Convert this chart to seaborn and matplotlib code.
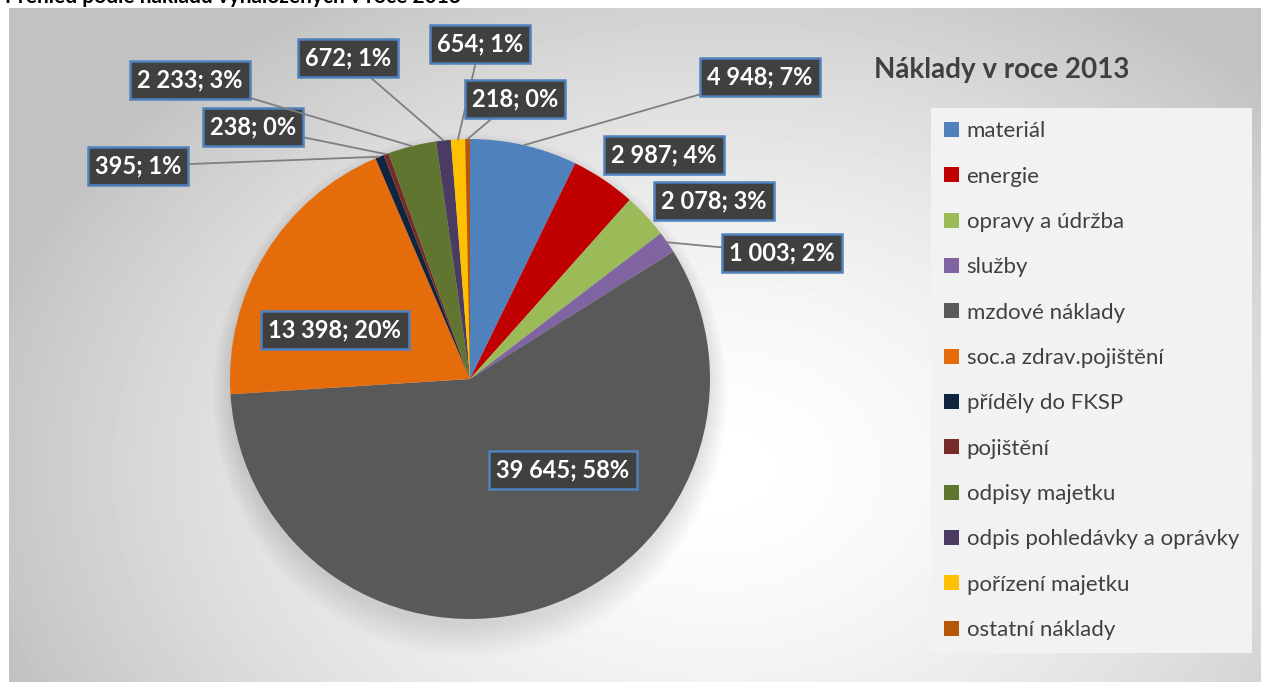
import numpy as np
import matplotlib.pyplot as plt
import seaborn as sns
from matplotlib.patches import Patch, Ellipse

sns.set_style("white")
plt.rcParams['font.family'] = ['Lato', 'DejaVu Sans']

# data
categories = ["materiál", "energie", "opravy a údržba", "služby", "mzdové náklady",
              "soc.a zdrav.pojištění", "příděly do FKSP", "pojištění", "odpisy majetku",
              "odpis pohledávky a oprávky", "pořízení majetku", "ostatní náklady"]
values = [4948, 2987, 2078, 1003, 39645, 13398, 395, 238, 2233, 672, 654, 218]
pct_labels = [7, 4, 3, 2, 58, 20, 1, 0, 3, 1, 1, 0]
colors = ["#4f81bd", "#c00000", "#9bbb59", "#8064a2", "#595959", "#e46c0a",
          "#0f243e", "#772c2a", "#5f7530", "#4b3b62", "#ffc000", "#b65708"]

# layout: label box centres in pixels, and which labels get a leader line
label_px = [(760, 77), (664, 155), (714, 201), (782, 253), (563, 470), (335, 330),
            (138, 166), (253, 127), (190, 80), (348, 58), (480, 44), (515, 99)]
leader = [True, False, False, True, False, False, True, True, True, True, True, True]

W, H = 1261, 682
cx, cy, R = 470, 379, 240

fig = plt.figure(figsize=(W / 100, H / 100), dpi=100)
fig.patch.set_facecolor("white")

# gradient background of the chart area
bg = fig.add_axes([9 / W, 0, 1 - 9 / W, 1 - 8 / H])
yy, xx = np.mgrid[0:200, 0:400]
xs = xx / 399 * (W - 9) + 9
ys = yy / 199 * (H - 8) + 8
d = np.sqrt(((xs - 720) / 760) ** 2 + ((ys - 470) / 560) ** 2)
shade = 1 - 0.24 * np.clip(d, 0, 1) ** 1.6
bg.imshow(shade, cmap="gray", vmin=0, vmax=1, aspect="auto", interpolation="bicubic")
bg.axis("off")

# cut off heading at the very top
fig.text(5 / W, 1 - 3 / H, "Přehled podle nákladů vynaložených v roce 2013",
         fontsize=15, fontweight="bold", color="black", va="baseline", ha="left")

ax = fig.add_axes([(cx - R) / W, (H - cy - R) / H, 2 * R / W, 2 * R / H])

# soft shadow under the pie
for i in range(10):
    ax.add_patch(Ellipse((0, -0.03 - 0.004 * i), 2.0 + 0.016 * i, 2.0 + 0.02 * i,
                         color="black", alpha=0.012, zorder=0, lw=0, clip_on=False))

wedges, _ = ax.pie(values, colors=colors, startangle=90, counterclock=False, radius=1,
                   wedgeprops=dict(linewidth=0))
ax.set_xlim(-1, 1)
ax.set_ylim(-1, 1)
ax.set_aspect("equal")
ax.axis("off")

for w, v, p, (px, py), ld in zip(wedges, values, pct_labels, label_px, leader):
    txt = f"{v:,}".replace(",", " ") + f"; {p}%"
    mid = np.deg2rad((w.theta1 + w.theta2) / 2)
    tx, ty = (px - cx) / R, (cy - py) / R
    bbox = dict(boxstyle="square,pad=0.3", facecolor="#404040", edgecolor="#4f81bd", linewidth=1.8)
    if ld:
        ax.annotate(txt, xy=(np.cos(mid), np.sin(mid)), xytext=(tx, ty), ha="center", va="center",
                    fontsize=17, fontweight="bold", color="white", bbox=bbox, annotation_clip=False,
                    arrowprops=dict(arrowstyle="-", color="#7f7f7f", lw=1.3, shrinkA=0, shrinkB=0))
    else:
        ax.text(tx, ty, txt, ha="center", va="center", fontsize=17, fontweight="bold",
                color="white", bbox=bbox, clip_on=False)

fig.text(1002 / W, 1 - 70 / H, "Náklady v roce 2013", fontsize=20, fontweight="bold",
         color="#404040", ha="center", va="center")

handles = [Patch(facecolor=c, edgecolor="none") for c in colors]
leg = fig.legend(handles, categories, loc="upper left", bbox_to_anchor=(931 / W, 1 - 108 / H),
                 frameon=True, fancybox=False, fontsize=16, labelcolor="#404040",
                 handlelength=0.65, handleheight=0.65, handletextpad=0.35, labelspacing=1.14,
                 borderpad=0.6, borderaxespad=0)
leg.get_frame().set_facecolor("#f2f2f2")
leg.get_frame().set_edgecolor("none")
leg.get_frame().set_alpha(1)

fig.savefig("out.png", dpi=100)
